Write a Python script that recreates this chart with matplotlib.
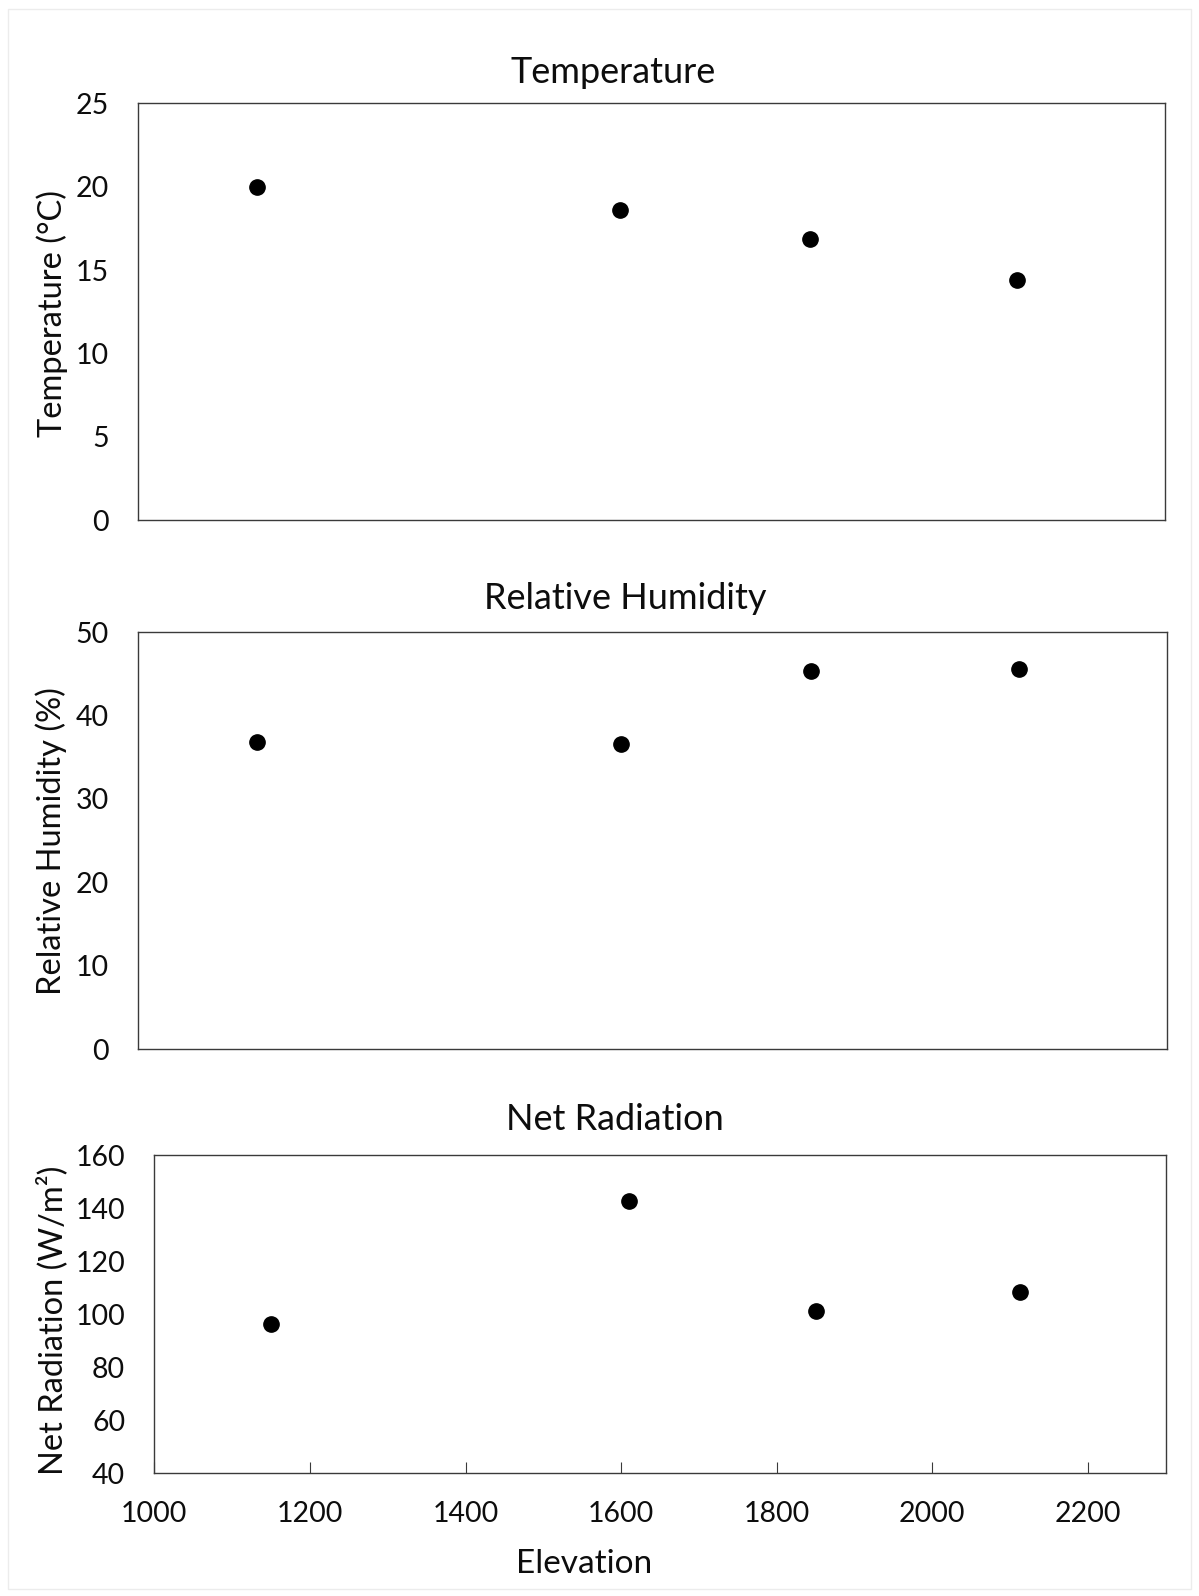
import matplotlib
matplotlib.use("Agg")
import matplotlib.pyplot as plt
from matplotlib.patches import Rectangle

plt.rcParams['font.family'] = ['Lato', 'DejaVu Sans']

# Data
elevation = [1150, 1610, 1850, 2113]
temperature = [20.0, 18.6, 16.85, 14.4]
humidity = [36.8, 36.6, 45.3, 45.6]
net_radiation = [96.3, 142.8, 101.4, 108.3]

titles = ["Temperature", "Relative Humidity", "Net Radiation"]
ylabels = ["Temperature (°C)", "Relative Humidity (%)", "Net Radiation (W/m²)"]
x_ticks = [1000, 1200, 1400, 1600, 1800, 2000, 2200]
temp_ticks = [0, 5, 10, 15, 20, 25]
rh_ticks = [0, 10, 20, 30, 40, 50]
rad_ticks = [40, 60, 80, 100, 120, 140, 160]

W, H = 1199, 1596
fig = plt.figure(figsize=(W / 100, H / 100), dpi=100)

def fx(px):
    return px / W

def fy(py):
    return 1 - py / H

# axes rectangles (pixel coords: left, right, top, bottom)
boxes = [(138, 1165, 103.3, 520.3), (138, 1166.7, 632.3, 1049), (154.3, 1165.7, 1155.3, 1473.3)]
series = [temperature, humidity, net_radiation]
yticks = [temp_ticks, rh_ticks, rad_ticks]
title_pos = [(613, 82.7), (625, 609), (615, 1130)]
ylabel_pos = [(52.5, 313.5), (51.5, 841), (52, 1320)]

spine_col = '#3a3a3a'
text_col = '#0d0d0d'
for i, (l, r, t, b) in enumerate(boxes):
    ax = fig.add_axes([fx(l), fy(b), fx(r) - fx(l), fy(t) - fy(b)])
    ax.plot(elevation, series[i], 'o', color='black', markersize=11, clip_on=False)
    ax.set_xlim(1000, 2300)
    ax.set_ylim(yticks[i][0], yticks[i][-1])
    ax.set_yticks(yticks[i])
    ax.tick_params(axis='y', length=0, pad=21, labelsize=20.5, colors=text_col)
    for s in ax.spines.values():
        s.set_color(spine_col)
        s.set_linewidth(1.0)
    if i < 2:
        ax.set_xticks([])
    else:
        ax.set_xticks(x_ticks)
        ax.tick_params(axis='x', direction='in', length=7.7, width=0.8, color=spine_col,
                       pad=20, labelsize=20.5, labelcolor=text_col)
    tx, ty = title_pos[i]
    fig.text(fx(tx), fy(ty), titles[i], ha='center', va='baseline', fontsize=26, color=text_col)
    lx, ly = ylabel_pos[i]
    fig.text(fx(lx), fy(ly), ylabels[i], ha='center', va='center', rotation=90,
             fontsize=23.5, color=text_col)

fig.text(fx(584), fy(1572.7), "Elevation", ha='center', va='baseline', fontsize=24, color=text_col)

# faint outer border
fig.patches.append(Rectangle((fx(7.7), fy(1589)), fx(1191) - fx(7.7), fy(9.3) - fy(1589),
                             transform=fig.transFigure, fill=False, edgecolor='#ececec',
                             linewidth=1.0))

fig.savefig("out.png", dpi=100, facecolor='white')
